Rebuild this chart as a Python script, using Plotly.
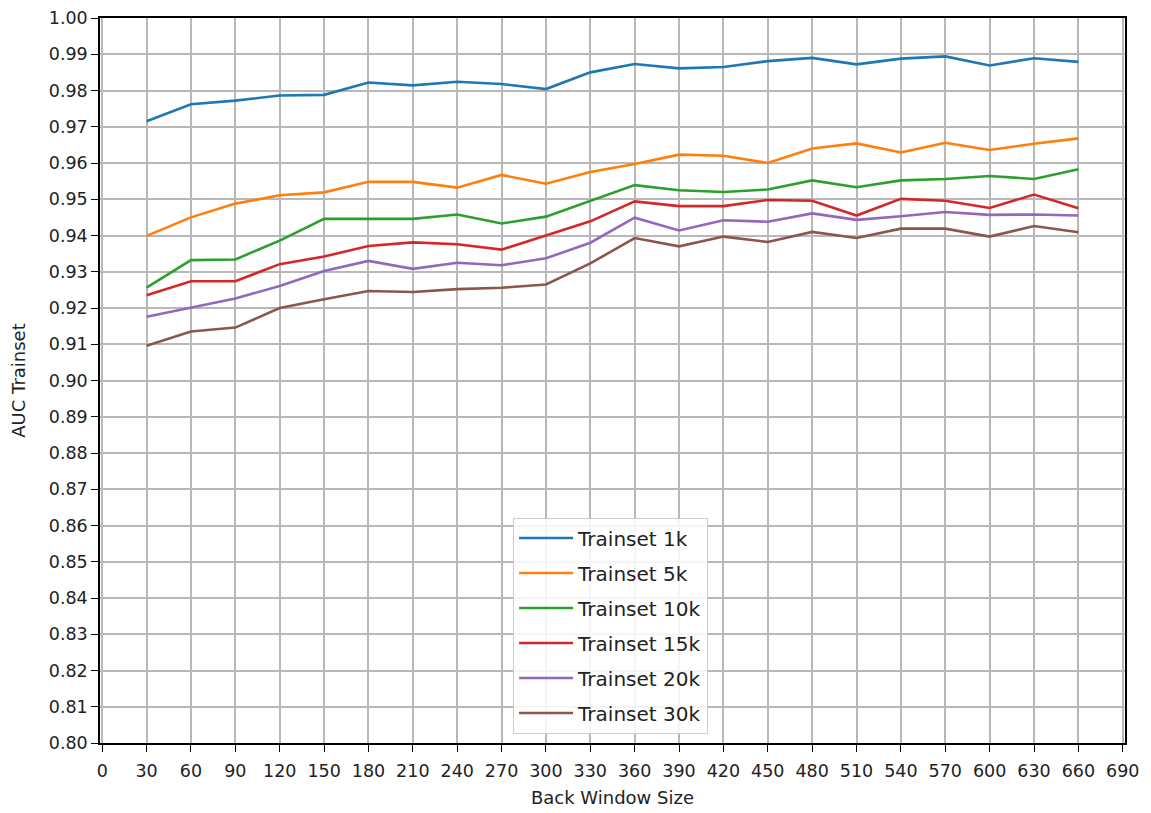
import plotly.graph_objects as go

# Back window sizes (x axis)
window_sizes = [30, 60, 90, 120, 150, 180, 210, 240, 270, 300, 330,
                360, 390, 420, 450, 480, 510, 540, 570, 600, 630, 660]

# AUC on the train set for each train-set size
auc_1k = [0.9715, 0.9762, 0.9772, 0.9786, 0.9788, 0.9822, 0.9814, 0.9824, 0.9818, 0.9804, 0.9850,
          0.9873, 0.9861, 0.9865, 0.9881, 0.9890, 0.9872, 0.9888, 0.9894, 0.9869, 0.9889, 0.9879]
auc_5k = [0.9399, 0.9450, 0.9488, 0.9511, 0.9519, 0.9548, 0.9548, 0.9532, 0.9567, 0.9543, 0.9575,
          0.9597, 0.9623, 0.9620, 0.9600, 0.9640, 0.9654, 0.9629, 0.9656, 0.9636, 0.9653, 0.9668]
auc_10k = [0.9256, 0.9332, 0.9334, 0.9386, 0.9446, 0.9446, 0.9446, 0.9458, 0.9433, 0.9452, 0.9495,
           0.9539, 0.9525, 0.9520, 0.9527, 0.9552, 0.9533, 0.9552, 0.9556, 0.9564, 0.9556, 0.9583]
auc_15k = [0.9235, 0.9274, 0.9274, 0.9321, 0.9342, 0.9371, 0.9381, 0.9376, 0.9361, 0.9401, 0.9439,
           0.9494, 0.9481, 0.9481, 0.9498, 0.9496, 0.9455, 0.9501, 0.9496, 0.9476, 0.9513, 0.9475]
auc_20k = [0.9176, 0.9201, 0.9226, 0.9261, 0.9302, 0.9330, 0.9308, 0.9325, 0.9318, 0.9337, 0.9380,
           0.9449, 0.9414, 0.9442, 0.9438, 0.9461, 0.9443, 0.9453, 0.9465, 0.9457, 0.9458, 0.9455]
auc_30k = [0.9096, 0.9135, 0.9146, 0.9200, 0.9224, 0.9247, 0.9244, 0.9252, 0.9256, 0.9265, 0.9323,
           0.9393, 0.9370, 0.9397, 0.9382, 0.9410, 0.9393, 0.9419, 0.9419, 0.9397, 0.9426, 0.9409]

series_names = ["Trainset 1k", "Trainset 5k", "Trainset 10k", "Trainset 15k", "Trainset 20k", "Trainset 30k"]
series_values = [auc_1k, auc_5k, auc_10k, auc_15k, auc_20k, auc_30k]
colors = ["#1f77b4", "#ff7f0e", "#2ca02c", "#d62728", "#9467bd", "#8c564b"]

x_ticks = list(range(0, 691, 30))
y_ticks = [round(0.80 + 0.01 * i, 2) for i in range(21)]

fig = go.Figure()
for name, vals, col in zip(series_names, series_values, colors):
    fig.add_trace(go.Scatter(x=window_sizes, y=vals, mode="lines", name=name,
                             legendgroup=name,
                             line=dict(color=col, width=2.6)))

axis_common = dict(
    showline=True, linecolor="black", linewidth=1.5, mirror=True,
    ticks="outside", ticklen=7, tickwidth=1.3, tickcolor="black",
    showgrid=True, gridcolor="#b8b8b8", gridwidth=1.5, zeroline=False,
    automargin=False,
    tickfont=dict(family="DejaVu Sans", size=17.5, color="#222"),
)

fig.update_layout(
    width=1151, height=813,
    margin=dict(l=100, r=26, t=18, b=70),
    paper_bgcolor="white", plot_bgcolor="white",
    font=dict(family="DejaVu Sans", color="#222"),
    xaxis=dict(range=[-1.5, 691.5], tickvals=x_ticks, ticklabelstandoff=4,
               title=dict(text="Back Window Size", font=dict(size=18), standoff=12),
               **axis_common),
    yaxis=dict(range=[0.80, 1.00], tickvals=y_ticks, tickformat=".2f",
               title=dict(text="AUC Trainset", font=dict(size=18), standoff=18),
               **axis_common),
    legend=dict(x=0.403, y=0.311, xanchor="left", yanchor="top",
                bgcolor="rgba(255,255,255,0.85)", bordercolor="#cccccc", borderwidth=1,
                font=dict(family="DejaVu Sans", size=20, color="#222"),
                itemwidth=54, tracegroupgap=6),
    showlegend=True,
)

fig.write_html("out.html")
